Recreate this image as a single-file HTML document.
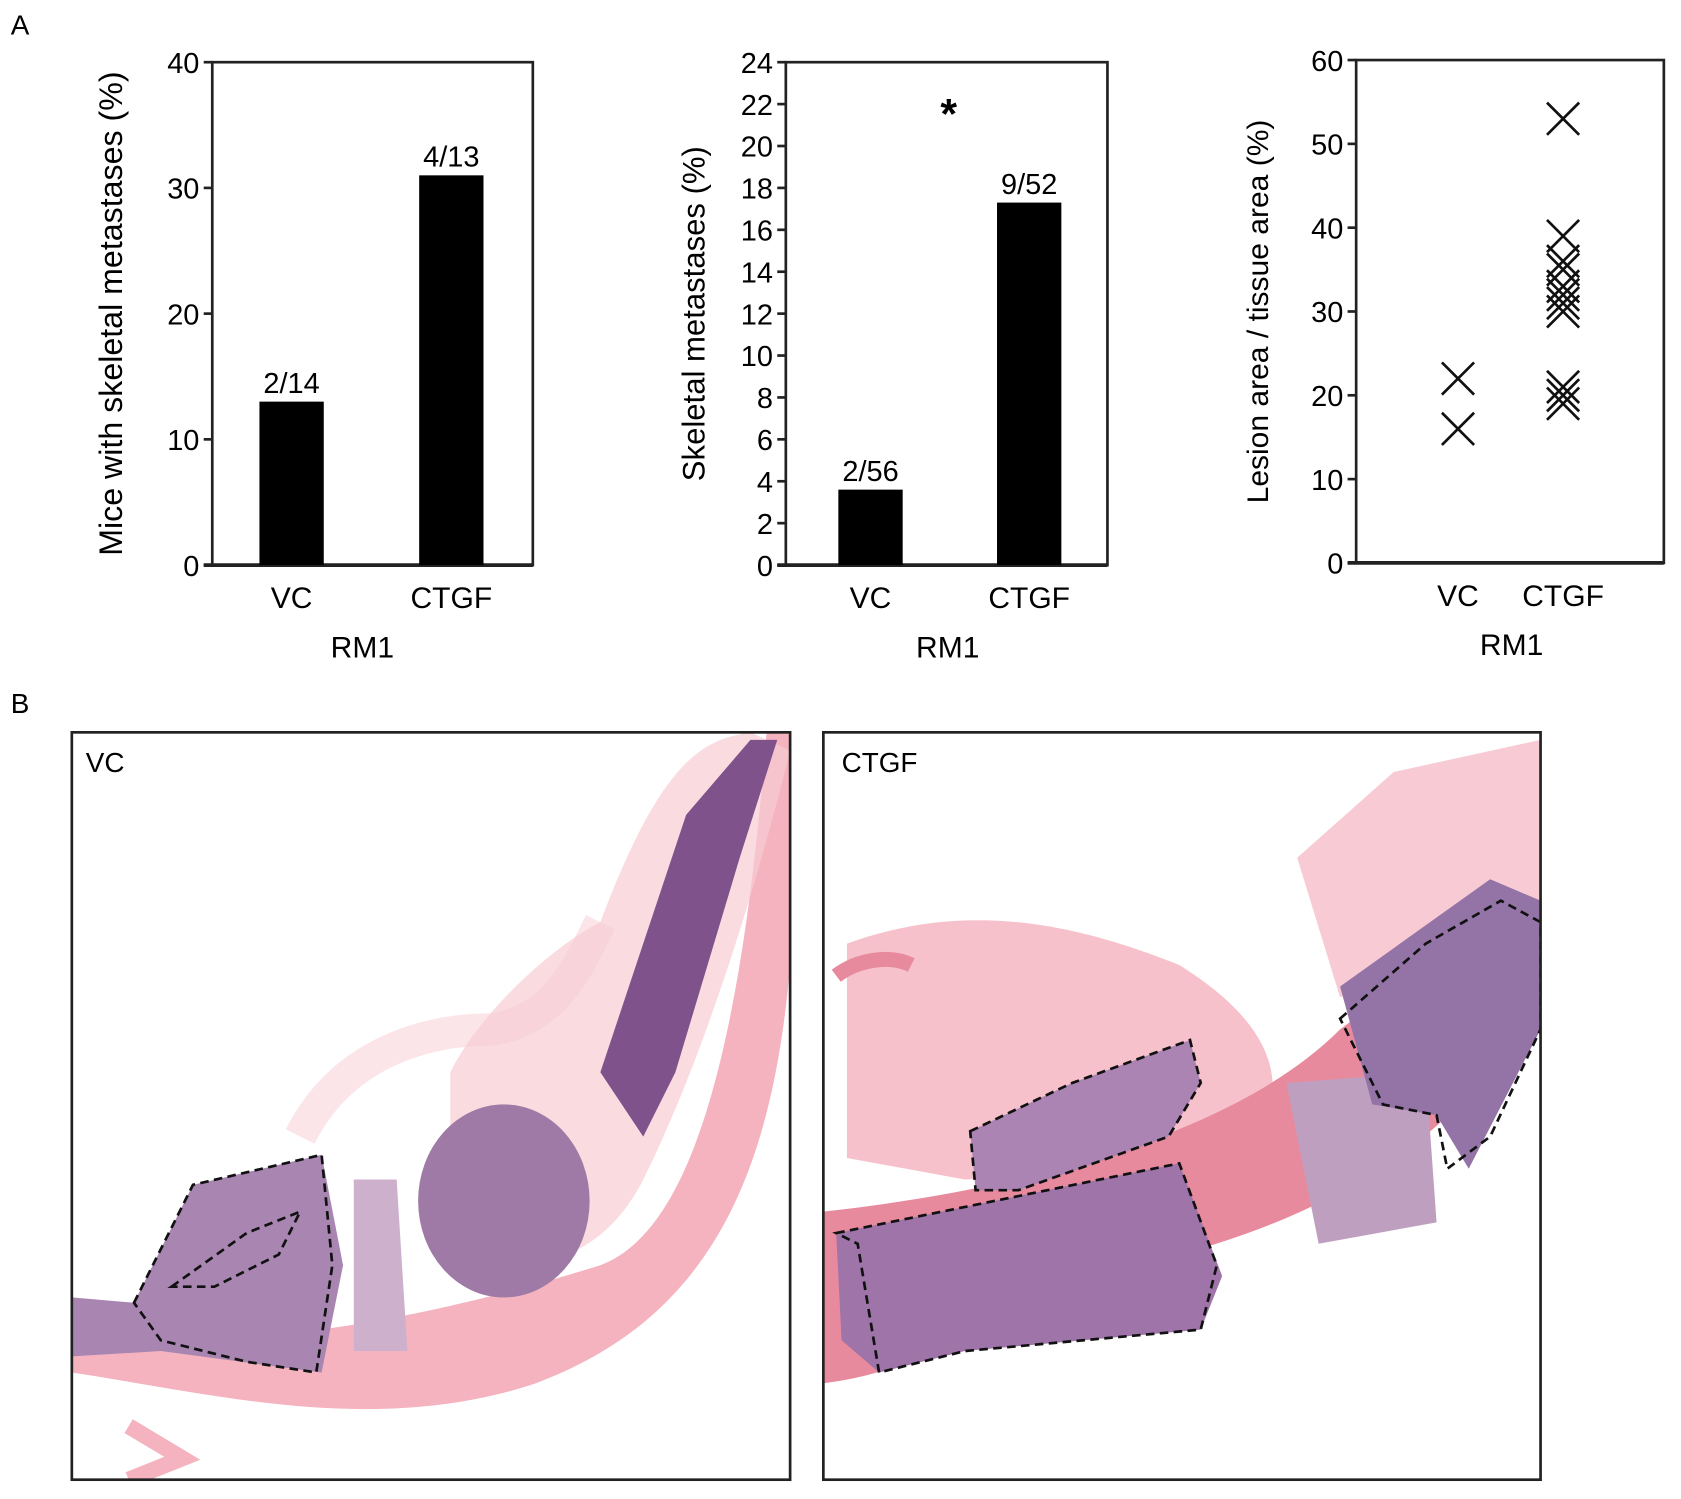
<!DOCTYPE html>
<html><head><meta charset="utf-8"><style>
html,body{margin:0;padding:0;background:#fff;}
svg{display:block;font-family:"Liberation Sans",sans-serif;}
</style></head><body>
<svg id="fig" width="1681" height="1499" viewBox="0 0 1568 1398" preserveAspectRatio="none">
<text x="10" y="32" font-size="26">A</text>
<text x="10" y="665" font-size="26">B</text>
<g id="charts"></g>

<g>
<defs>
<clipPath id="c1"><rect x="67" y="683" width="670" height="697"/></clipPath>
<clipPath id="c2"><rect x="768" y="683" width="669" height="697"/></clipPath>
</defs>
<g clip-path="url(#c1)">
<path d="M67,1235 C200,1270 400,1230 560,1180 C640,1150 690,1000 715,683 L737,683 L737,900 C720,1100 660,1230 500,1290 C350,1340 200,1300 67,1280 Z" fill="#f4b3be"/>
<path d="M420,1000 C450,940 520,880 560,860 C620,700 660,690 700,683 L737,700 C700,850 650,1000 600,1100 C560,1180 480,1200 420,1150 Z" fill="#f7ccd3" opacity="0.7"/>
<path d="M560,1000 L640,760 L700,690 L725,690 L690,800 L630,1000 L600,1060 Z" fill="#80528c"/>
<ellipse cx="470" cy="1120" rx="80" ry="90" fill="#a07aa6"/>
<path d="M67,1210 L125,1215 L180,1105 L300,1077 L320,1180 L300,1280 L150,1260 L67,1265 Z" fill="#a985b2"/>
<path d="M330,1100 L370,1100 L380,1260 L330,1260 Z" fill="#cdb0cc"/>
<path d="M280,1060 C320,980 400,960 460,960 C520,950 540,900 560,860" stroke="#f7ccd3" stroke-width="30" fill="none" opacity="0.5"/>
<path d="M125,1215 L180,1105 L300,1077 L310,1180 L295,1280 L230,1270 L150,1250 Z" fill="none" stroke="#111" stroke-width="2.5" stroke-dasharray="8,5"/>
<path d="M160,1200 L230,1150 L280,1130 L260,1170 L200,1200 Z" fill="none" stroke="#111" stroke-width="2.5" stroke-dasharray="8,5"/>
<path d="M120,1330 L170,1360 L120,1380" fill="none" stroke="#f4b3be" stroke-width="15"/>
</g>
<rect x="67" y="683" width="670" height="697" fill="none" stroke="#222" stroke-width="2.5"/>
<text x="80" y="720" font-size="26">VC</text>
</g>

<g>
<g clip-path="url(#c2)">
<path d="M790,880 C900,840 1000,860 1100,900 C1180,950 1200,1000 1180,1050 L1100,1090 L900,1100 L790,1080 Z" fill="#f3a7b5" opacity="0.7"/>
<path d="M1210,800 L1300,720 L1437,690 L1437,860 L1250,930 Z" fill="#f3a7b5" opacity="0.6"/>
<path d="M768,1130 C950,1110 1150,1060 1250,960 C1330,900 1400,860 1437,840 L1437,920 C1380,1050 1250,1130 1100,1170 C950,1220 860,1280 768,1290 Z" fill="#e88a9e"/>
<path d="M780,1150 L1100,1085 L1140,1190 L1120,1240 L900,1260 L820,1280 L785,1250 Z" fill="#9f74a9"/>
<path d="M905,1055 L1000,1010 L1110,970 L1120,1010 L1090,1060 L950,1110 L910,1110 Z" fill="#ab84b3"/>
<path d="M1200,1010 L1330,1000 L1340,1140 L1230,1160 Z" fill="#bf9fc0"/>
<path d="M1250,920 L1390,820 L1437,840 L1437,960 L1370,1090 L1340,1040 L1280,1030 Z" fill="#9474a7"/>
<path d="M780,1150 L1100,1085 L1135,1180 L1120,1240 L900,1260 L820,1280 L800,1160 Z" fill="none" stroke="#111" stroke-width="2.5" stroke-dasharray="8,5"/>
<path d="M905,1055 L1000,1010 L1110,970 L1120,1010 L1090,1060 L950,1110 L910,1110 Z" fill="none" stroke="#111" stroke-width="2.5" stroke-dasharray="8,5"/>
<path d="M1250,950 L1330,880 L1400,840 L1437,860 L1437,960 L1390,1060 L1350,1090 L1340,1040 L1290,1030 Z" fill="none" stroke="#111" stroke-width="2.5" stroke-dasharray="8,5"/>
<path d="M780,910 C800,895 830,890 850,900" stroke="#e88a9e" stroke-width="14" fill="none"/>
</g>
<rect x="768" y="683" width="669" height="697" fill="none" stroke="#222" stroke-width="2.5"/>
<text x="785" y="720" font-size="26">CTGF</text>
</g>
</svg>
<script>
const cats = ["VC", "CTGF"];
const mice = [13, 31];
const miceLabels = ["2/14", "4/13"];
const mets = [3.6, 17.3];
const metsLabels = ["2/56", "9/52"];
const lesionVC = [22, 16];
const lesionCTGF = [53, 39, 36, 35, 33, 32, 31, 30, 21, 20, 19];
const ticks1 = [0, 10, 20, 30, 40];
const ticks2 = [0, 2, 4, 6, 8, 10, 12, 14, 16, 18, 20, 22, 24];
const ticks3 = [0, 10, 20, 30, 40, 50, 60];

const NS = "http://www.w3.org/2000/svg";
const root = document.getElementById("charts");
function mk(tag, attrs, parent, txt) {
  const e = document.createElementNS(NS, tag);
  for (const k in attrs) e.setAttribute(k, attrs[k]);
  if (txt !== undefined) e.textContent = txt;
  (parent || root).appendChild(e);
  return e;
}
function axes(g, x0, x1, y0, y1, max, ticks, title, titleX, titleSize) {
  const ys = v => y0 - (v / max) * (y0 - y1);
  mk("rect", {x: x0, y: y1, width: x1 - x0, height: y0 - y1, fill: "none", stroke: "#222", "stroke-width": 2.5}, g);
  mk("line", {x1: x0 - 8, x2: x1, y1: y0, y2: y0, stroke: "#222", "stroke-width": 3.5}, g);
  ticks.forEach(t => {
    mk("line", {x1: x0 - 8, x2: x0, y1: ys(t), y2: ys(t), stroke: "#222", "stroke-width": 2.5}, g);
    const lb = mk("text", {x: x0 - 12, y: ys(t) + 10, "font-size": 27, "text-anchor": "end"}, g, t);
    
    
  });
  const tt = mk("text", {x: titleX, y: (y0 + y1) / 2, "font-size": titleSize, "text-anchor": "middle", transform: `rotate(-90 ${titleX} ${(y0 + y1) / 2})`}, g, title);
  
  
  return ys;
}
function barChart(name, x0, x1, max, ticks, vals, labels, centers, title, titleX, titleSize, rmX) {
  const g = mk("g", {});
  
  
  const y0 = 527, y1 = 58;
  const ys = axes(g, x0, x1, y0, y1, max, ticks, title, titleX, titleSize);
  vals.forEach((v, i) => {
    const b = mk("rect", {x: centers[i] - 30, y: ys(v), width: 60, height: y0 - ys(v), fill: "#000"}, g);
    
    
    const l = mk("text", {x: centers[i], y: ys(v) - 8, "font-size": 27, "text-anchor": "middle"}, g, labels[i]);
    
    
    const c = mk("text", {x: centers[i], y: 567, "font-size": 28, "text-anchor": "middle"}, g, cats[i]);
    
    
  });
  const r = mk("text", {x: rmX, y: 613, "font-size": 28, "text-anchor": "middle"}, g, "RM1");
  
  
  return g;
}
barChart("chart-mice-metastases", 198, 497, 40, ticks1, mice, miceLabels, [272, 421], "Mice with skeletal metastases (%)", 114, 30, 338);
const g2 = barChart("chart-skeletal-metastases", 733, 1033, 24, ticks2, mets, metsLabels, [812, 960], "Skeletal metastases (%)", 657, 29, 884);
const star = mk("text", {x: 885, y: 120, "font-size": 40, "text-anchor": "middle", "font-weight": "bold"}, g2, "*");



const g3 = mk("g", {});


const ys3 = axes(g3, 1265, 1552, 525, 56, 60, ticks3, "Lesion area / tissue area (%)", 1183, 28);
const cx3 = [1360, 1458];
[lesionVC, lesionCTGF].forEach((arr, i) => {
  arr.forEach(v => {
    const y = ys3(v), x = cx3[i], s = 15;
    const p = mk("path", {d: `M${x - s},${y - s}L${x + s},${y + s}M${x - s},${y + s}L${x + s},${y - s}`, stroke: "#111", "stroke-width": 2.5, fill: "none"}, g3);
    
    
  });
  const c = mk("text", {x: cx3[i], y: 565, "font-size": 28, "text-anchor": "middle"}, g3, cats[i]);
  
  
});
const r3 = mk("text", {x: 1410, y: 611, "font-size": 28, "text-anchor": "middle"}, g3, "RM1");


</script>
</body></html>
